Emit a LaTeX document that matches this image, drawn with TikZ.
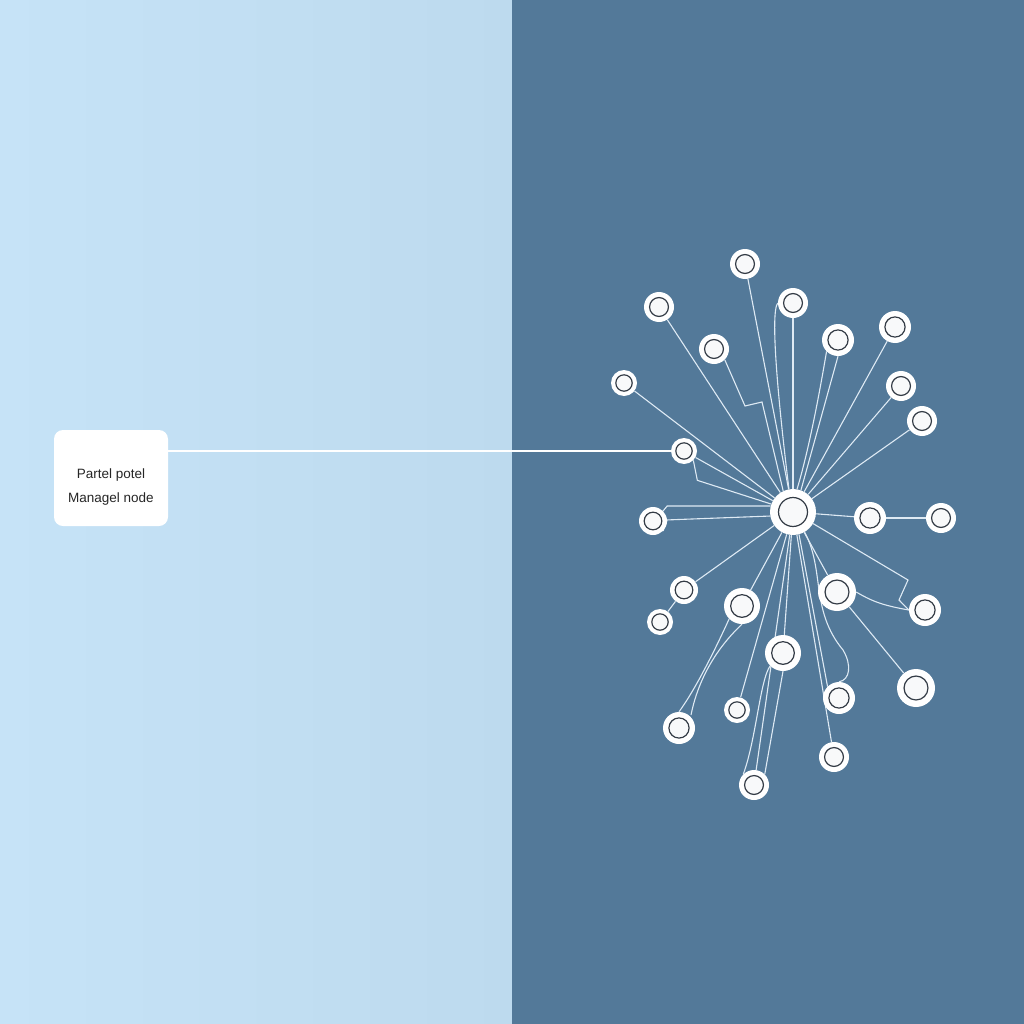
\documentclass[tikz,border=0pt]{standalone}
\usepackage{fontspec}
\setmainfont{Liberation Sans}
\usetikzlibrary{positioning,backgrounds}
\definecolor{paneA}{RGB}{198,227,247}
\definecolor{paneB}{RGB}{189,218,238}
\definecolor{paneDark}{RGB}{83,121,153}
\definecolor{wire}{RGB}{222,234,244}
\definecolor{ring}{RGB}{52,60,70}
\definecolor{dotfill}{RGB}{248,249,250}
\pgfdeclarelayer{wires}
\pgfsetlayers{background,wires,main}
\begin{document}
\begin{tikzpicture}
[x=1pt, y=-1pt, font=\fontsize{13.5}{24}\selectfont,
% STYLES
% The dot style draws a white disc with a dark ring inside, #1 is the outer radius
dot/.style={circle, fill=white, inner sep=0pt, minimum size={2*#1pt},
  path picture={\draw[ring, fill=dotfill, line width=1.2pt] (path picture bounding box.center) circle ({0.63*#1pt});}},
% The hub style is used for the central node
hub/.style={dot=23},
% The tag style is used for the white label card
tag/.style={rectangle, rounded corners=9pt, fill=white, minimum width=114pt, minimum height=96pt},
% The caption style is used for the text on the card
caption/.style={align=center, text=black!85, inner sep=0pt},
% The wire style is used for the thin links
wire/.style={draw=wire, line width=1.1pt}]

\useasboundingbox (0,0) rectangle (1024,1024);

% Draw panes
\begin{pgfonlayer}{background}
\fill[left color=paneA, right color=paneB] (0,0) rectangle (512,1024);
\fill[paneDark] (512,0) rectangle (1024,1024);
\end{pgfonlayer}

% Draw card
\node [tag] (card) at (111,478) {};
\node [caption] (card-text) at ([yshift=-9pt]card.center) {Partel potel\\Managel node};

% Draw nodes
\node [hub] (hub) at (793,512) {};
\node [dot=15] (top) at (745,264) {};
\node [dot=15] (upleft) at (659,307) {};
\node [dot=15] (upmid) at (793,303) {};
\node [dot=15] (inleft) at (714,349) {};
\node [dot=16] (inright) at (838,340) {};
\node [dot=16] (upright) at (895,327) {};
\node [dot=13] (farleft) at (624,383) {};
\node [dot=15] (right1) at (901,386) {};
\node [dot=15] (right2) at (922,421) {};
\node [dot=13] (link) at (684,451) {};
\node [dot=14] (west) at (653,521) {};
\node [dot=16] (east) at (870,518) {};
\node [dot=15] (easter) at (941,518) {};
\node [dot=14] (sw1) at (684,590) {};
\node [dot=13] (sw2) at (660,622) {};
\node [dot=18] (lowleft) at (742,606) {};
\node [dot=19] (lowright) at (837,592) {};
\node [dot=16] (se1) at (925,610) {};
\node [dot=18] (lowmid) at (783,653) {};
\node [dot=19] (se2) at (916,688) {};
\node [dot=13] (bot1) at (737,710) {};
\node [dot=16] (bot2) at (839,698) {};
\node [dot=16] (bot3) at (679,728) {};
\node [dot=15] (bot4) at (834,757) {};
\node [dot=15] (bottom) at (754,785) {};

%%%%%%%%%%%%%%%
% Draw the links
\begin{pgfonlayer}{wires}
\draw [wire, draw=white] (link.west) -- (link.west -| card.east);

\path[wire]
(hub) edge (top)
(hub) edge (upleft)
(hub) edge (upmid)
(hub) edge (upright)
(hub) edge (farleft)
(hub) edge (right1)
(hub) edge (right2)
(hub) edge (link)
(hub) edge (east)
(east) edge (easter)
(hub) edge (sw1)
(sw1) edge (sw2)
(hub) edge (lowleft)
(hub) edge (lowright)
(lowright) edge (se2)
(hub) edge (lowmid)
(hub) edge (bot1)
(hub) edge (bot4)
(hub) edge (bottom);

% bends and brackets
\draw [wire] (hub.165) -- (west.east |- hub.165) -- (west.north east);
\draw [wire] (hub.190) -- (west.east |- hub.200) -- (west.south east);
\draw [wire] (link.south east) -- ++(4,20) -- (hub.160);
\draw [wire] (inleft.south east) -- (745,406) -- (762,402) -- (hub.115);
\draw [wire] (upmid.west) .. controls (770,312) and (778,400) .. (hub.100);
\draw [wire] (inright.south west) .. controls (825,360) and (812,440) .. (hub.80);
\draw [wire] (inright.south) -- (hub.70);
\draw [wire] (hub.-30) -- (908,580) -- (899,600) -- (se1.west);
\draw [wire] (lowright.east) .. controls (870,600) and (880,605) .. (se1.west);
\draw [wire] (hub.-60) .. controls (825,570) and (810,610) .. (843,650) .. controls (852,665) and (850,680) .. (bot2.north);
\draw [wire] (hub.-75) -- (bot2.north west);
\draw [wire] (lowleft.south) .. controls (725,640) and (700,670) .. (691,715);
\draw [wire] (lowleft.south west) .. controls (715,650) and (695,690) .. (bot3.north);
\draw [wire] (lowmid.south west) .. controls (760,680) and (756,740) .. (bottom.north west);
\draw [wire] (lowmid.south) -- (bottom.north east);
\end{pgfonlayer}

\end{tikzpicture}
\end{document}
